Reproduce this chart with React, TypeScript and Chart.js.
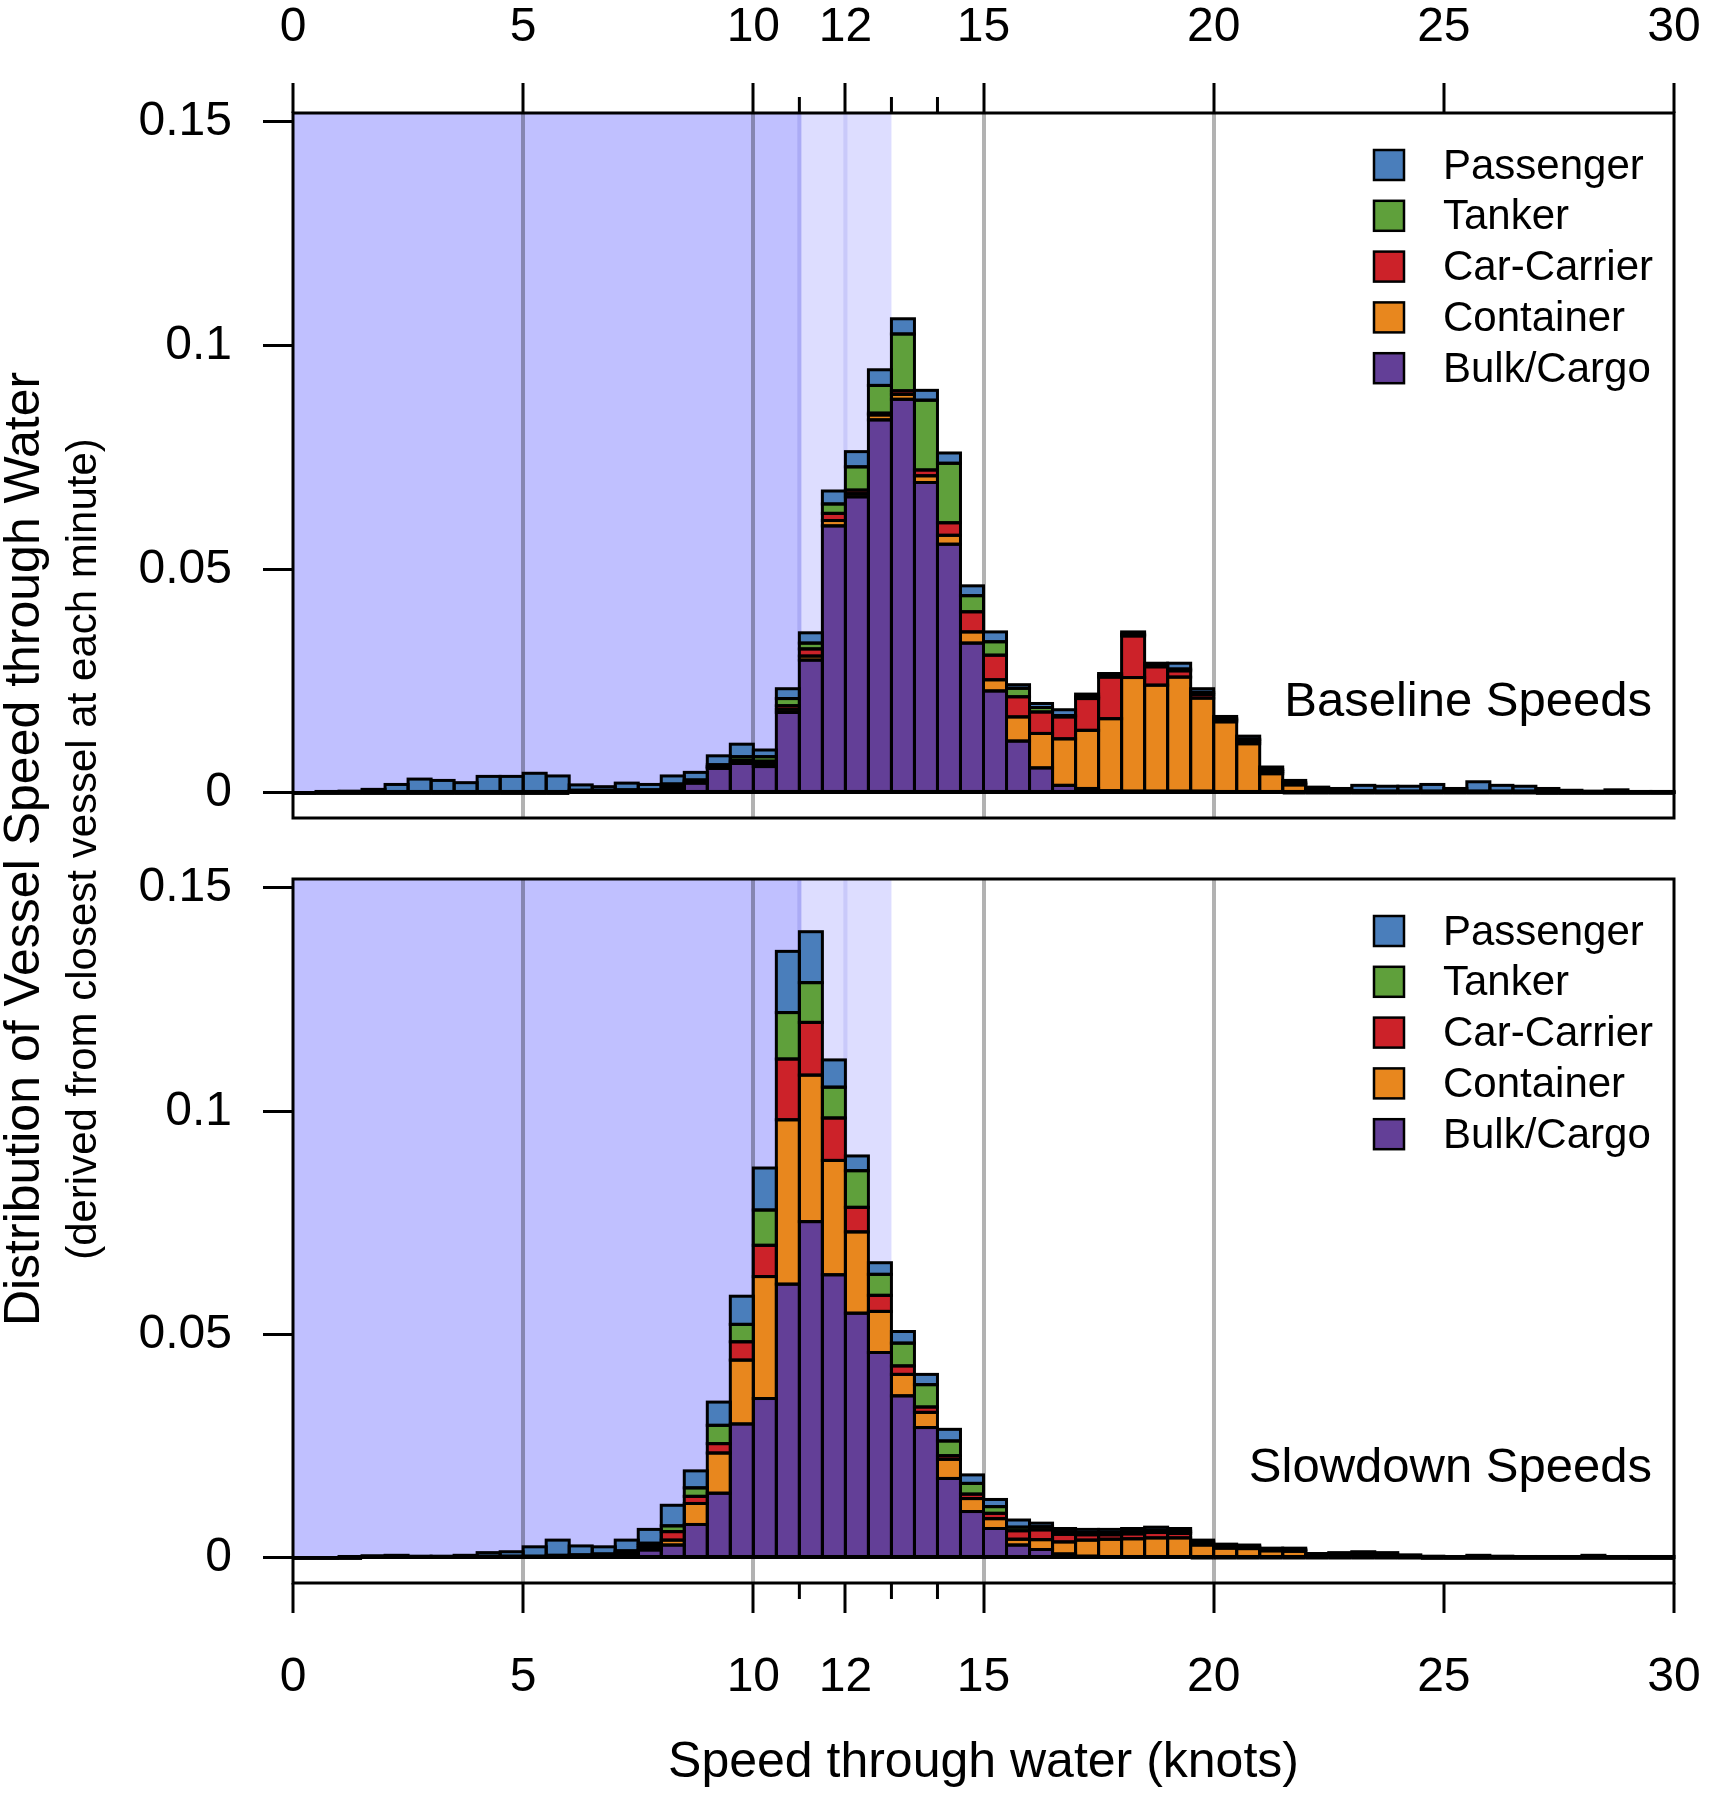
import { useEffect, useRef } from 'react'
import { Chart, registerables } from 'chart.js'

Chart.register(...registerables)

const FONT = "'Liberation Sans', Arial, Helvetica, sans-serif"

// bin centres, 0.5 knot bins
const binCenters = [
  0.25, 0.75, 1.25, 1.75, 2.25, 2.75, 3.25, 3.75, 4.25, 4.75,
  5.25, 5.75, 6.25, 6.75, 7.25, 7.75, 8.25, 8.75, 9.25, 9.75,
  10.25, 10.75, 11.25, 11.75, 12.25, 12.75, 13.25, 13.75, 14.25, 14.75,
  15.25, 15.75, 16.25, 16.75, 17.25, 17.75, 18.25, 18.75, 19.25, 19.75,
  20.25, 20.75, 21.25, 21.75, 22.25, 22.75, 23.25, 23.75, 24.25, 24.75,
  25.25, 25.75, 26.25, 26.75, 27.25, 27.75, 28.25, 28.75, 29.25, 29.75,
]

// stack order, bottom to top
const seriesNames = ['Bulk/Cargo', 'Container', 'Car-Carrier', 'Tanker', 'Passenger']
const seriesColors = ['#633F97', '#E8871E', '#CC2229', '#5FA03B', '#4A7EBB']

// baseline speeds
const basePassenger = [
  0, 0.0001, 0.0004, 0.0008, 0.0019, 0.0031, 0.0028, 0.0023, 0.0037, 0.0037,
  0.0044, 0.0038, 0.0012, 0.0008, 0.0015, 0.0012, 0.0018, 0.0017, 0.0020, 0.0028,
  0.0015, 0.0022, 0.0023, 0.0029, 0.0034, 0.0035, 0.0034, 0.0022, 0.0023, 0.0022,
  0.0022, 0.0008, 0.0009, 0.0013, 0.0006, 0.0004, 0.0005, 0.0004, 0.0013, 0.0008,
  0.0005, 0.0007, 0.0006, 0.0005, 0.0004, 0.0005, 0.0012, 0.0011, 0.0011, 0.0015,
  0.0006, 0.0021, 0.0013, 0.0011, 0.0008, 0.0004, 0.0002, 0.0005, 0.0002, 0.0001,
]
const baseTanker = [
  0, 0, 0, 0, 0, 0, 0, 0, 0, 0,
  0, 0, 0.0003, 0.0003, 0.0003, 0.0003, 0.0004, 0.0003, 0.0004, 0.0008,
  0.0010, 0.0016, 0.0013, 0.0021, 0.0052, 0.0062, 0.0127, 0.0156, 0.0133, 0.0036,
  0.0030, 0.0019, 0.0010, 0.0003, 0.0004, 0.0004, 0.0004, 0.0004, 0.0004, 0.0005,
  0.0003, 0.0004, 0.0004, 0.0003, 0.0004, 0.0003, 0.0003, 0.0002, 0.0002, 0.0002,
  0.0002, 0.0002, 0.0002, 0.0002, 0.0002, 0.0002, 0.0002, 0.0002, 0.0001, 0.0001,
]
const baseCarCarrier = [
  0, 0, 0, 0, 0, 0, 0, 0, 0, 0,
  0, 0, 0, 0, 0, 0, 0.0002, 0.0002, 0.0002, 0.0004,
  0.0006, 0.0008, 0.0016, 0.0016, 0.0008, 0.0004, 0.0008, 0.0013, 0.0028, 0.0045,
  0.0055, 0.0045, 0.0048, 0.0049, 0.0071, 0.0093, 0.0093, 0.0041, 0.0014, 0.0008,
  0.0004, 0.0006, 0.0005, 0.0002, 0.0002, 0, 0, 0, 0, 0,
  0, 0, 0, 0, 0, 0, 0, 0, 0, 0,
]
const baseContainer = [
  0, 0, 0, 0, 0, 0, 0, 0, 0, 0,
  0, 0, 0, 0, 0, 0, 0.0004, 0.0002, 0.0002, 0.0003,
  0.0006, 0.0007, 0.0009, 0.0012, 0.0007, 0.0011, 0.0011, 0.0015, 0.0020, 0.0025,
  0.0025, 0.0054, 0.0077, 0.0104, 0.0130, 0.0161, 0.0254, 0.0237, 0.0255, 0.0208,
  0.0156, 0.0108, 0.0042, 0.0018, 0.0003, 0.0002, 0.0002, 0.0002, 0.0002, 0.0002,
  0.0002, 0.0002, 0.0002, 0.0002, 0, 0, 0, 0, 0, 0,
]
const baseBulk = [
  0, 0, 0, 0, 0, 0, 0, 0, 0, 0,
  0, 0, 0.0003, 0.0003, 0.0004, 0.0004, 0.0010, 0.0022, 0.0055, 0.0066,
  0.0059, 0.0180, 0.0297, 0.0597, 0.0662, 0.0834, 0.0880, 0.0694, 0.0556, 0.0335,
  0.0228, 0.0116, 0.0056, 0.0017, 0.0010, 0.0005, 0.0004, 0.0004, 0.0004, 0.0004,
  0.0003, 0.0002, 0.0001, 0, 0, 0, 0, 0, 0, 0,
  0, 0, 0, 0, 0, 0, 0, 0, 0, 0,
]

// slowdown speeds
const slowPassenger = [
  0, 0, 0.0002, 0.0003, 0.0004, 0.0002, 0.0002, 0.0004, 0.0008, 0.0010,
  0.0021, 0.0034, 0.0020, 0.0016, 0.0024, 0.0031, 0.0046, 0.0038, 0.0052, 0.0063,
  0.0094, 0.0137, 0.0114, 0.0061, 0.0033, 0.0026, 0.0026, 0.0023, 0.0026, 0.0019,
  0.0016, 0.0016, 0.0008, 0.0007, 0.0007, 0.0007, 0.0007, 0.0007, 0.0006, 0.0004,
  0.0003, 0.0003, 0.0002, 0.0003, 0.0003, 0.0004, 0.0005, 0.0005, 0.0004, 0.0002,
  0.0002, 0.0004, 0.0002, 0.0002, 0.0002, 0.0002, 0.0004, 0.0002, 0.0001, 0.0001,
]
const slowTanker = [
  0, 0, 0, 0, 0, 0, 0, 0, 0.0002, 0.0002,
  0.0002, 0.0003, 0.0003, 0.0002, 0.0003, 0.0005, 0.0013, 0.0019, 0.0041, 0.0039,
  0.0079, 0.0104, 0.0089, 0.0069, 0.0082, 0.0047, 0.0051, 0.0050, 0.0033, 0.0024,
  0.0015, 0.0008, 0.0007, 0.0006, 0.0005, 0.0005, 0.0005, 0.0005, 0.0005, 0.0003,
  0.0003, 0.0002, 0.0002, 0.0002, 0.0002, 0.0003, 0.0003, 0.0003, 0.0002, 0.0002,
  0.0001, 0.0002, 0.0002, 0.0001, 0.0001, 0.0001, 0.0002, 0.0001, 0, 0,
]
const slowCarCarrier = [
  0, 0, 0, 0, 0, 0, 0, 0, 0, 0,
  0, 0, 0, 0.0002, 0.0002, 0.0005, 0.0019, 0.0016, 0.0021, 0.0041,
  0.0070, 0.0136, 0.0118, 0.0095, 0.0055, 0.0036, 0.0019, 0.0012, 0.0008, 0.0010,
  0.0012, 0.0019, 0.0022, 0.0017, 0.0012, 0.0010, 0.0011, 0.0012, 0.0010, 0.0004,
  0.0003, 0.0003, 0.0002, 0.0002, 0, 0, 0, 0, 0, 0,
  0, 0, 0, 0, 0, 0, 0, 0, 0, 0,
]
const slowContainer = [
  0, 0, 0, 0, 0, 0, 0, 0, 0, 0,
  0, 0, 0, 0, 0.0003, 0.0005, 0.0011, 0.0047, 0.0090, 0.0143,
  0.0273, 0.0368, 0.0328, 0.0256, 0.0182, 0.0092, 0.0048, 0.0034, 0.0043, 0.0029,
  0.0022, 0.0013, 0.0022, 0.0027, 0.0036, 0.0039, 0.0040, 0.0042, 0.0042, 0.0029,
  0.0022, 0.0021, 0.0016, 0.0015, 0.0005, 0.0005, 0.0006, 0.0004, 0.0001, 0,
  0, 0, 0, 0, 0, 0, 0, 0, 0, 0,
]
const slowBulk = [
  0, 0, 0, 0.0002, 0.0002, 0.0002, 0.0002, 0.0002, 0.0002, 0.0002,
  0.0002, 0.0003, 0.0004, 0.0005, 0.0008, 0.0018, 0.0029, 0.0075, 0.0145, 0.0300,
  0.0357, 0.0613, 0.0753, 0.0634, 0.0548, 0.0460, 0.0363, 0.0292, 0.0178, 0.0104,
  0.0066, 0.0029, 0.0019, 0.0009, 0.0004, 0.0003, 0.0003, 0.0003, 0.0003, 0,
  0, 0, 0, 0, 0, 0, 0, 0, 0, 0,
  0, 0, 0, 0, 0, 0, 0, 0, 0, 0,
]

const xTickValues = [0, 5, 10, 11, 12, 13, 14, 15, 20, 25, 30]
const xTickLabels = ['0', '5', '10', '', '12', '', '', '15', '20', '25', '30']
const xMinorTicks = [11, 13, 14]
const xGridValues = [5, 10, 15, 20]
const yTickValues = [0, 0.05, 0.1, 0.15]
const yTickLabels = ['0', '0.05', '0.1', '0.15']

// shaded speed bands: [from, to]
const bandDark = [0, 11]
const bandLight = [11, 13]

function buildDatasets(values: number[][]) {
  return seriesNames.map((name, k) => ({
    label: name,
    data: binCenters.map((x, i) => ({ x, y: values[k][i] })),
    backgroundColor: seriesColors[k],
    borderWidth: 0,
    barPercentage: 1,
    categoryPercentage: 1,
  }))
}

function panelPlugin(label: string, top: boolean) {
  return {
    id: 'panel',
    beforeDraw(chart: any) {
      const { ctx, chartArea: a, scales } = chart
      const x = scales.x
      const y0 = scales.y.getPixelForValue(0)
      ctx.save()
      const d1 = x.getPixelForValue(bandDark[0])
      const d2 = x.getPixelForValue(bandDark[1])
      const l2 = x.getPixelForValue(bandLight[1])
      ctx.fillStyle = '#C0C0FF'
      ctx.fillRect(d1, a.top, d2 - d1, y0 - a.top)
      ctx.fillStyle = '#DDDDFF'
      ctx.fillRect(d2, a.top, l2 - d2, y0 - a.top)
      ctx.lineWidth = 4
      ctx.strokeStyle = '#ABABF5'
      ctx.beginPath()
      ctx.moveTo(d2, a.top)
      ctx.lineTo(d2, y0)
      ctx.stroke()
      ctx.strokeStyle = '#C9C9FA'
      const p12 = x.getPixelForValue(12)
      ctx.beginPath()
      ctx.moveTo(p12, a.top)
      ctx.lineTo(p12, y0)
      ctx.stroke()
      ctx.restore()
    },
    afterDatasetsDraw(chart: any) {
      // outline every bar segment with a centred stroke, as R's rect() does
      const ctx = chart.ctx
      ctx.save()
      ctx.strokeStyle = '#000'
      ctx.lineWidth = 3
      chart.data.datasets.forEach((_: any, di: number) => {
        chart.getDatasetMeta(di).data.forEach((el: any) => {
          const { x, y, base, width } = el.getProps(['x', 'y', 'base', 'width'], true)
          ctx.strokeRect(x - width / 2, Math.min(y, base), width, Math.abs(base - y))
        })
      })
      ctx.restore()
    },
    afterDraw(chart: any) {
      const { ctx, chartArea: a, scales } = chart
      const x = scales.x
      ctx.save()
      // frame
      ctx.strokeStyle = '#000'
      ctx.lineWidth = 3
      ctx.strokeRect(a.left, a.top, a.right - a.left, a.bottom - a.top)
      // minor ticks
      for (const v of xMinorTicks) {
        const px = x.getPixelForValue(v)
        ctx.beginPath()
        if (top) {
          ctx.moveTo(px, a.top)
          ctx.lineTo(px, a.top - 16)
        } else {
          ctx.moveTo(px, a.bottom)
          ctx.lineTo(px, a.bottom + 16)
        }
        ctx.stroke()
      }
      // legend
      const names = [...seriesNames].reverse()
      const colors = [...seriesColors].reverse()
      ctx.font = `42px ${FONT}`
      ctx.textBaseline = 'middle'
      ctx.textAlign = 'left'
      names.forEach((n, i) => {
        const cy = a.top + 52 + i * 50.8
        const sx = a.left + 1081
        ctx.fillStyle = colors[i]
        ctx.fillRect(sx, cy - 15, 30, 30)
        ctx.lineWidth = 2.5
        ctx.strokeRect(sx, cy - 15, 30, 30)
        ctx.fillStyle = '#000'
        ctx.fillText(n, a.left + 1150, cy + 2)
      })
      // panel label
      ctx.font = `49px ${FONT}`
      ctx.textAlign = 'right'
      ctx.fillText(label, a.right - 22, scales.y.getPixelForValue(0) - 90)
      // axis titles
      if (top) {
        ctx.translate(25, 849)
        ctx.rotate(-Math.PI / 2)
        ctx.textAlign = 'center'
        ctx.font = `50px ${FONT}`
        ctx.fillText('Distribution of Vessel Speed through Water', 0, 0)
        ctx.font = `42px ${FONT}`
        ctx.fillText('(derived from closest vessel at each minute)', 0, 59)
      } else {
        ctx.textAlign = 'center'
        ctx.font = `50px ${FONT}`
        ctx.fillText('Speed through water (knots)', (a.left + a.right) / 2, a.bottom + 180)
      }
      ctx.restore()
    },
  }
}

function makeOptions(top: boolean): any {
  const tickFont = { family: FONT, size: 48 }
  return {
    responsive: false,
    animation: false,
    events: [],
    layout: {
      padding: top
        ? { top: 0, left: 0, right: 35, bottom: 979 }
        : { top: 879, left: 0, right: 35, bottom: 0 },
    },
    plugins: { legend: { display: false }, tooltip: { enabled: false } },
    scales: {
      x: {
        type: 'linear',
        position: top ? 'top' : 'bottom',
        min: 0,
        max: 30,
        offset: false,
        stacked: true,
        afterFit: (s: any) => {
          s.height = top ? 113 : 214
          s.paddingLeft = 0
          s.paddingRight = 0
        },
        afterBuildTicks: (s: any) => { s.ticks = xTickValues.map((v) => ({ value: v })) },
        grid: {
          offset: false,
          color: (c: any) => (xGridValues.includes(c.tick?.value) ? 'rgba(0,0,0,0.3)' : 'rgba(0,0,0,0)'),
          lineWidth: 4,
          tickLength: 30,
          tickWidth: 3,
          tickColor: (c: any) => (xMinorTicks.includes(c.tick?.value) ? 'rgba(0,0,0,0)' : '#000'),
        },
        border: { display: false },
        ticks: {
          autoSkip: false,
          maxRotation: 0,
          padding: top ? 26 : 36,
          font: tickFont,
          color: '#000',
          callback: (v: number) => xTickLabels[xTickValues.indexOf(v)] ?? '',
        },
      },
      y: {
        type: 'linear',
        min: -0.0056,
        max: 0.152,
        stacked: true,
        afterFit: (s: any) => { s.width = 293 },
        afterBuildTicks: (s: any) => { s.ticks = yTickValues.map((v) => ({ value: v })) },
        grid: {
          color: (c: any) => (c.tick?.value === 0 ? '#000' : 'rgba(0,0,0,0)'),
          lineWidth: 3,
          tickLength: 30,
          tickWidth: 3,
          tickColor: '#000',
        },
        border: { display: false },
        ticks: {
          padding: 31,
          font: tickFont,
          color: '#000',
          callback: (v: number) => yTickLabels[yTickValues.indexOf(v)] ?? '',
        },
      },
    },
  }
}

export default function App() {
  const topRef = useRef<HTMLCanvasElement>(null)
  const botRef = useRef<HTMLCanvasElement>(null)

  useEffect(() => {
    if (!topRef.current || !botRef.current) return
    const topChart = new Chart(topRef.current, {
      type: 'bar',
      data: { datasets: buildDatasets([baseBulk, baseContainer, baseCarCarrier, baseTanker, basePassenger]) as any },
      options: makeOptions(true),
      plugins: [panelPlugin('Baseline Speeds', true)],
    })
    const botChart = new Chart(botRef.current, {
      type: 'bar',
      data: { datasets: buildDatasets([slowBulk, slowContainer, slowCarCarrier, slowTanker, slowPassenger]) as any },
      options: makeOptions(false),
      plugins: [panelPlugin('Slowdown Speeds', false)],
    })
    return () => {
      topChart.destroy()
      botChart.destroy()
    }
  }, [])

  const canvasStyle: React.CSSProperties = { position: 'absolute', left: 0, top: 0, width: 1709, height: 1797 }
  return (
    <div style={{ position: 'absolute', left: 0, top: 0, width: 1709, height: 1797, background: '#fff' }}>
      <canvas ref={topRef} width={1709} height={1797} style={canvasStyle} />
      <canvas ref={botRef} width={1709} height={1797} style={canvasStyle} />
    </div>
  )
}
